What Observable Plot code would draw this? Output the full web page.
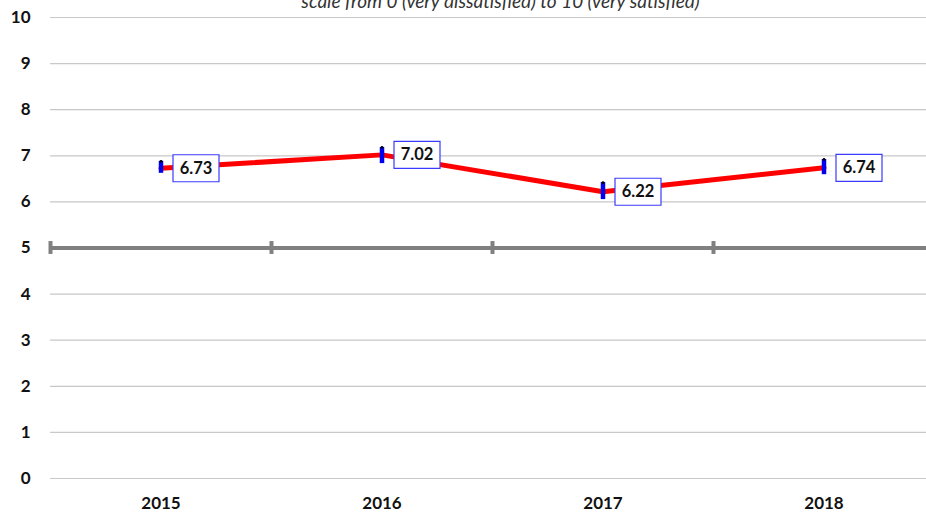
<!DOCTYPE html>
<html>
<head>
<meta charset="utf-8">
<script src="https://cdn.jsdelivr.net/npm/d3@7"></script>
<script src="https://cdn.jsdelivr.net/npm/@observablehq/plot@0.6"></script>
<style>
  html, body { margin: 0; padding: 0; background: #fff; }
  #chart svg { display: block; }
</style>
</head>
<body>
<div id="chart"></div>
<script>
const years = ["2015", "2016", "2017", "2018"];
const scores = [6.73, 7.02, 6.22, 6.74];
const errLow = [6.62, 6.83, 6.05, 6.59];
const errHigh = [6.88, 7.18, 6.42, 6.92];
const yTicks = [0, 1, 2, 3, 4, 5, 6, 7, 8, 9, 10];
const referenceValue = 5;
const subtitle = "scale from 0 (very dissatisfied) to 10 (very satisfied)";

const data = years.map((year, i) => ({year, score: scores[i], lo: errLow[i], hi: errHigh[i], label: scores[i].toFixed(2)}));

const boxSymbol = {
  draw(ctx) { ctx.rect(-23, -13.5, 46, 27); }
};

const font = "Lato, 'Open Sans', sans-serif";

const chart = Plot.plot({
  width: 926,
  height: 518,
  marginTop: 17,
  marginBottom: 40,
  marginLeft: 50,
  marginRight: 0,
  style: { fontFamily: font, background: "#fff", overflow: "hidden" },
  x: { type: "band", domain: years, range: [50, 934], padding: 0 },
  y: { domain: [0, 10], range: [478, 17] },
  marks: [
    Plot.ruleY(yTicks.filter(t => t !== referenceValue), { stroke: "#c8c8c8", strokeWidth: 1.2 }),
    Plot.ruleY([referenceValue], { stroke: "#808080", strokeWidth: 4 }),
    Plot.ruleX(years, { x: d => d, y1: referenceValue - 0.14, y2: referenceValue + 0.14, dx: -110.5, stroke: "#808080", strokeWidth: 4 }),
    Plot.axisY(yTicks, { tickSize: 0, tickPadding: 20, fontSize: 17, fontWeight: "bold", fill: "#111" }),
    Plot.axisX({ tickSize: 0, tickPadding: 18, fontSize: 17, fontWeight: "bold", fill: "#111", label: null }),
    Plot.line(data, { x: "year", y: "score", stroke: "#ff0000", strokeWidth: 5 }),
    Plot.ruleX(data, { x: "year", y1: "lo", y2: "hi", stroke: "#0000ee", strokeWidth: 4.5 }),
    Plot.dot(data, { x: "year", y: "hi", r: 1.4, fill: "#000", stroke: null }),
    Plot.dot(data, { x: "year", y: "score", symbol: boxSymbol, dx: 35, fill: "#fff", stroke: "#3b3bff", strokeWidth: 1.2 }),
    Plot.text(data, { x: "year", y: "score", text: "label", dx: 35, fontSize: 16.5, fontWeight: "bold", fill: "#111" }),
    Plot.text([subtitle], { frameAnchor: "top", lineAnchor: "bottom", dy: -10, dx: 12, fontSize: 19, fontStyle: "italic", fill: "#333" })
  ]
});

document.getElementById("chart").appendChild(chart);
</script>
</body>
</html>
